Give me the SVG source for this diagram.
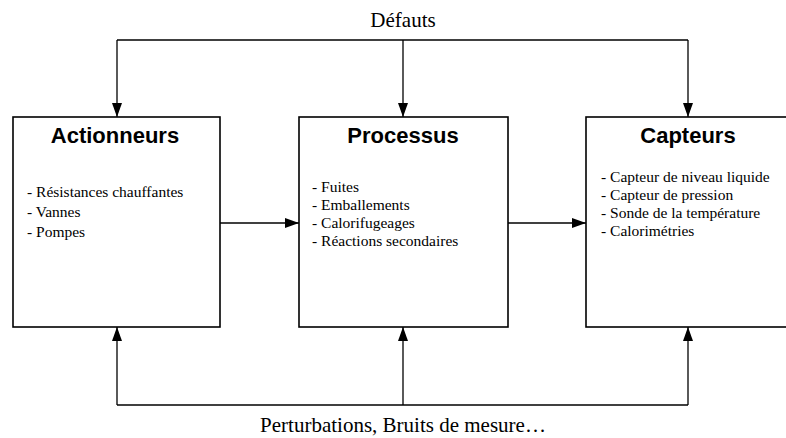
<svg xmlns="http://www.w3.org/2000/svg" width="786" height="438" viewBox="0 0 786 438">
<style>
.box{fill:#fff;stroke:#000;stroke-width:1.6}
.title{font-family:"Liberation Sans",Arial,sans-serif;font-weight:bold;font-size:22px;text-anchor:middle}
.item{font-family:"Liberation Serif","Times New Roman",serif;font-size:15.5px}
.lbl{font-family:"Liberation Serif","Times New Roman",serif;font-size:21px;text-anchor:middle}
.ln{fill:none;stroke:#000;stroke-width:1.3}
</style>
<defs>
<marker id="ah" viewBox="0 0 14 10" refX="14" refY="5" markerWidth="14" markerHeight="10" markerUnits="userSpaceOnUse" orient="auto">
<path d="M0,0 L14,5 L0,10 Z" fill="#000"/>
</marker>
</defs>
<text class="lbl" x="403" y="27">Défauts</text>
<text class="lbl" x="403" y="432">Perturbations, Bruits de mesure…</text>
<g id="connectors">
<path class="ln" d="M117,40 H688"/>
<path class="ln" d="M117,40 V117" marker-end="url(#ah)"/>
<path class="ln" d="M403,40 V117" marker-end="url(#ah)"/>
<path class="ln" d="M688,40 V117" marker-end="url(#ah)"/>
<path class="ln" d="M117,405 H688"/>
<path class="ln" d="M117,405 V327" marker-end="url(#ah)"/>
<path class="ln" d="M403,405 V327" marker-end="url(#ah)"/>
<path class="ln" d="M688,405 V327" marker-end="url(#ah)"/>
<path class="ln" d="M220,223 H299" marker-end="url(#ah)"/>
<path class="ln" d="M508,223 H586" marker-end="url(#ah)"/>
</g>
<g id="actionneurs">
<rect class="box" x="13" y="117" width="207" height="210"/>
<text class="title" x="115" y="143">Actionneurs</text>
<text class="item" x="27" y="197">- Résistances chauffantes</text>
<text class="item" x="27" y="217">- Vannes</text>
<text class="item" x="27" y="237">- Pompes</text>
</g>
<g id="processus">
<rect class="box" x="299" y="117" width="209" height="210"/>
<text class="title" x="403" y="143">Processus</text>
<text class="item" x="312" y="192">- Fuites</text>
<text class="item" x="312" y="210">- Emballements</text>
<text class="item" x="312" y="228">- Calorifugeages</text>
<text class="item" x="312" y="246">- Réactions secondaires</text>
</g>
<g id="capteurs">
<rect class="box" x="586" y="117" width="210" height="210"/>
<text class="title" x="688" y="143">Capteurs</text>
<text class="item" x="601" y="182">- Capteur de niveau liquide</text>
<text class="item" x="601" y="200">- Capteur de pression</text>
<text class="item" x="601" y="218">- Sonde de la température</text>
<text class="item" x="601" y="236">- Calorimétries</text>
</g>
</svg>
